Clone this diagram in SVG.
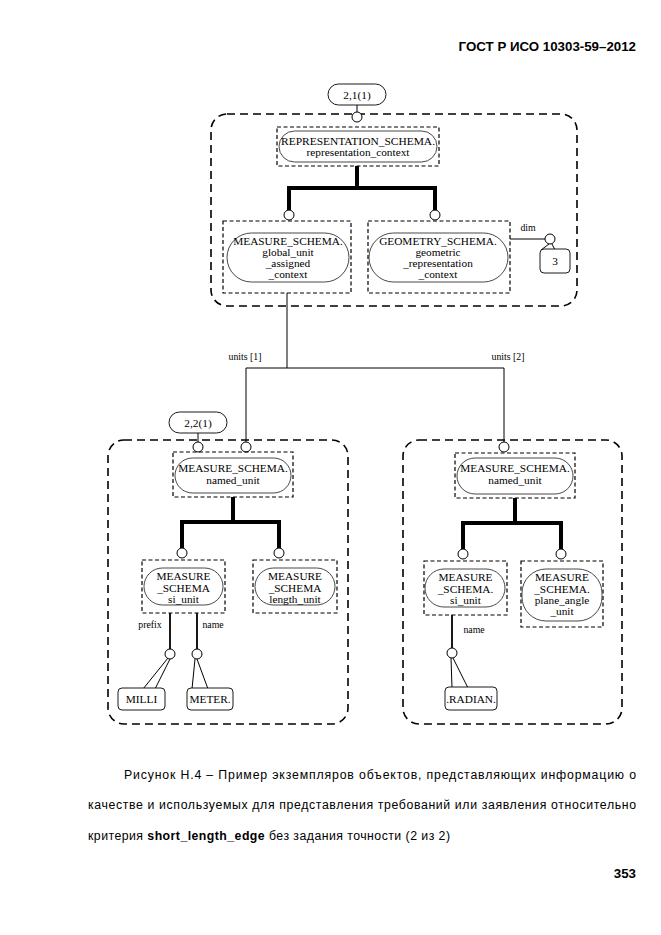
<svg xmlns="http://www.w3.org/2000/svg" width="661" height="935" viewBox="0 0 661 935">
<style>
.bg{fill:#fff}
.outer{fill:none;stroke:#000;stroke-width:1.6;stroke-dasharray:8 5}
.nbox{fill:none;stroke:#000;stroke-width:1.2;stroke-dasharray:4 2.5}
.pill{fill:#fff;stroke:#333;stroke-width:0.9}
.rbox{fill:#fff;stroke:#000;stroke-width:0.9}
.t{font-family:"Liberation Serif","Times New Roman",serif;font-size:11.3px;fill:#000;text-anchor:middle}
.lbl{font-family:"Liberation Serif","Times New Roman",serif;font-size:9.8px;fill:#000;text-anchor:middle}
.thin{fill:none;stroke:#000;stroke-width:1}
.mid{fill:none;stroke:#000;stroke-width:1.8}
.thick{fill:none;stroke:#000;stroke-width:4}
.circ{fill:#fff;stroke:#000;stroke-width:1}
.cap{font-family:"Liberation Sans",Arial,sans-serif;font-size:12.3px;fill:#000}
.hdr{font-family:"Liberation Sans",Arial,sans-serif;font-size:13.3px;font-weight:bold;fill:#000;text-anchor:end}
</style>
<rect class="bg" x="0" y="0" width="661" height="935"/>
<text class="hdr" x="636" y="51">ГОСТ Р ИСО 10303-59–2012</text>

<!-- outer dashed groupings -->
<rect class="outer" x="211" y="114" width="366" height="192" rx="16"/>
<rect class="outer" x="108" y="440" width="240" height="284" rx="16"/>
<rect class="outer" x="403" y="440" width="219" height="284" rx="16"/>

<g id="connectors">
  <line class="thin" x1="357" y1="105" x2="357" y2="112"/>
  <path class="thick" d="M357 166 V188 M289 188 H435 M289 186 V211 M435 186 V211"/>
  <line class="thin" x1="510" y1="239" x2="545" y2="239"/>
  <path class="thin" d="M549 244 L541 250 M552 244 L555 250"/>
  <path class="thin" d="M287 293 V368 M246 368 H504 M246 368 V442 M504 368 V442"/>
  <line class="thin" x1="198" y1="433" x2="198" y2="442"/>
  <path class="thick" d="M233 497 V522 M182 522 H279 M182 520 V549 M279 520 V549"/>
  <path class="thick" d="M515 498 V523 M463 523 H561 M463 521 V550 M561 521 V550"/>
  <path class="mid" d="M170 613 V649 M197 613 V649"/>
  <path class="thin" d="M168 658 L143 689 M170 659 L155 689 M195 659 L192 689 M197 659 L208 689"/>
  <path class="mid" d="M452 615 V648"/>
  <path class="thin" d="M451 658 L452 688 M453 658 L468 688"/>
  <text class="lbl" x="528" y="231">dim</text>
  <text class="lbl" x="245" y="360">units [1]</text>
  <text class="lbl" x="508" y="360">units [2]</text>
  <text class="lbl" x="150" y="628">prefix</text>
  <text class="lbl" x="213" y="628">name</text>
  <text class="lbl" x="474" y="633">name</text>
  <circle class="circ" cx="357" cy="117" r="5"/>
  <circle class="circ" cx="289" cy="215" r="5"/>
  <circle class="circ" cx="435" cy="215" r="5"/>
  <circle class="circ" cx="550" cy="239" r="5"/>
  <circle class="circ" cx="198" cy="447" r="5"/>
  <circle class="circ" cx="246" cy="447" r="5"/>
  <circle class="circ" cx="504" cy="447" r="5"/>
  <circle class="circ" cx="182" cy="553" r="5"/>
  <circle class="circ" cx="279" cy="553" r="5"/>
  <circle class="circ" cx="463" cy="554" r="5"/>
  <circle class="circ" cx="561" cy="554" r="5"/>
  <circle class="circ" cx="170" cy="654" r="5"/>
  <circle class="circ" cx="197" cy="654" r="5"/>
  <circle class="circ" cx="452" cy="653" r="5"/>
</g>

<g id="ref21">
  <rect class="rbox" x="328" y="84" width="58" height="21" rx="10.5"/>
  <text class="t" x="357" y="98.5">2,1(1)</text>
</g>
<g id="rep_context">
  <rect class="nbox" x="277" y="127" width="162" height="39"/>
  <rect class="pill" x="279" y="131" width="158" height="31" rx="15.5"/>
  <text class="t" x="358" y="144.5" textLength="154" lengthAdjust="spacingAndGlyphs">REPRESENTATION_SCHEMA.</text>
  <text class="t" x="358" y="156">representation_context</text>
</g>
<g id="global_unit">
  <rect class="nbox" x="223" y="221" width="128" height="72"/>
  <rect class="pill" x="227" y="233" width="122" height="49" rx="24.5"/>
  <text class="t" x="288" y="245">MEASURE_SCHEMA.</text>
  <text class="t" x="288" y="256">global_unit</text>
  <text class="t" x="288" y="267">_assigned</text>
  <text class="t" x="288" y="278">_context</text>
</g>
<g id="geom_context">
  <rect class="nbox" x="368" y="221" width="142" height="72"/>
  <rect class="pill" x="369" y="233" width="139" height="49" rx="24.5"/>
  <text class="t" x="438" y="245">GEOMETRY_SCHEMA.</text>
  <text class="t" x="438" y="256">geometric</text>
  <text class="t" x="438" y="267">_representation</text>
  <text class="t" x="438" y="278">_context</text>
</g>
<g id="val3">
  <rect class="rbox" x="540" y="249" width="30" height="24" rx="4"/>
  <text class="t" x="555" y="265">3</text>
</g>
<g id="ref22">
  <rect class="rbox" x="169" y="412" width="58" height="21" rx="10.5"/>
  <text class="t" x="198" y="426.5">2,2(1)</text>
</g>
<g id="named_unit1">
  <rect class="nbox" x="173" y="452" width="120" height="45"/>
  <rect class="pill" x="175" y="458" width="116" height="35" rx="17.5"/>
  <text class="t" x="233" y="472">MEASURE_SCHEMA.</text>
  <text class="t" x="233" y="484">named_unit</text>
</g>
<g id="si_unit1">
  <rect class="nbox" x="142" y="560" width="83" height="53"/>
  <rect class="pill" x="144" y="568" width="79" height="37" rx="18.5"/>
  <text class="t" x="183.5" y="579.5">MEASURE</text>
  <text class="t" x="183.5" y="591.5">_SCHEMA</text>
  <text class="t" x="183.5" y="602.5">si_unit</text>
</g>
<g id="length_unit">
  <rect class="nbox" x="253" y="560" width="84" height="53"/>
  <rect class="pill" x="255" y="568" width="80" height="37" rx="18.5"/>
  <text class="t" x="295" y="579.5">MEASURE</text>
  <text class="t" x="295" y="591.5">_SCHEMA</text>
  <text class="t" x="295" y="602.5">length_unit</text>
</g>
<g id="milli">
  <rect class="rbox" x="118" y="688" width="47" height="22" rx="4"/>
  <text class="t" x="141.5" y="703">MILLI</text>
</g>
<g id="meter">
  <rect class="rbox" x="187" y="688" width="46" height="22" rx="4"/>
  <text class="t" x="210" y="703">METER.</text>
</g>
<g id="named_unit2">
  <rect class="nbox" x="455" y="453" width="120" height="45"/>
  <rect class="pill" x="457" y="458" width="116" height="36" rx="18"/>
  <text class="t" x="515" y="472">MEASURE_SCHEMA.</text>
  <text class="t" x="515" y="484">named_unit</text>
</g>
<g id="si_unit2">
  <rect class="nbox" x="424" y="561" width="83" height="54"/>
  <rect class="pill" x="425" y="569" width="80" height="38" rx="19"/>
  <text class="t" x="465.5" y="581">MEASURE</text>
  <text class="t" x="465.5" y="593">_SCHEMA.</text>
  <text class="t" x="465.5" y="604">si_unit</text>
</g>
<g id="plane_angle_unit">
  <rect class="nbox" x="521" y="561" width="82" height="66"/>
  <rect class="pill" x="522" y="569" width="80" height="52" rx="24"/>
  <text class="t" x="562" y="581">MEASURE</text>
  <text class="t" x="562" y="593">_SCHEMA.</text>
  <text class="t" x="562" y="604">plane_angle</text>
  <text class="t" x="562" y="615">_unit</text>
</g>
<g id="radian">
  <rect class="rbox" x="445" y="687" width="52" height="23" rx="4"/>
  <text class="t" x="471" y="702.5">.RADIAN.</text>
</g>

<text class="cap" x="124" y="779" textLength="512" lengthAdjust="spacing">Рисунок Н.4 – Пример экземпляров объектов, представляющих информацию о</text>
<text class="cap" x="88" y="809" textLength="548" lengthAdjust="spacing">качестве и используемых для представления требований или заявления относительно</text>
<text class="cap" x="88" y="840" textLength="362" lengthAdjust="spacing">критерия <tspan font-weight="bold">short_length_edge</tspan> без задания точности (2 из 2)</text>
<text class="hdr" x="636" y="878">353</text>
</svg>
